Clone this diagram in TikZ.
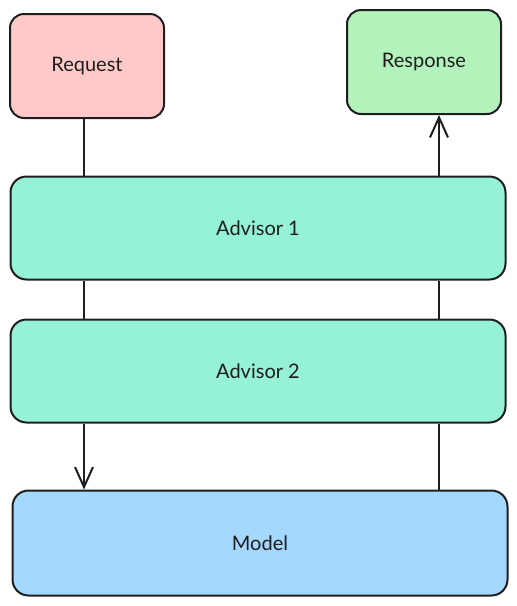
\documentclass[tikz,border=0pt]{standalone}
\usepackage{fontspec}
\setmainfont{Lato}
\usetikzlibrary{arrows.meta}
\definecolor{reqred}{HTML}{FFC9C9}
\definecolor{respgreen}{HTML}{B2F2BB}
\definecolor{advteal}{HTML}{96F2D7}
\definecolor{modblue}{HTML}{A5D8FF}
\definecolor{ink}{HTML}{1E1E1E}
\begin{document}
\begin{tikzpicture}[x=1pt,y=-1pt]

\tikzset{smallbox/.style={rectangle,rounded corners=14pt,minimum width=154pt,minimum height=104pt,inner sep=0pt,draw=ink,line width=2pt,text=ink,font=\fontsize{20}{22}\selectfont},}
\tikzset{widebox/.style={rectangle,rounded corners=16pt,minimum width=495pt,minimum height=103pt,inner sep=0pt,draw=ink,line width=2pt,text=ink,font=\fontsize{20}{22}\selectfont},}
\tikzset{flow/.style={draw=ink,line width=2pt},}
\tikzset{flowarrow/.style={flow,-{Straight Barb[length=20pt,width=18pt,line width=2pt]}},}

\useasboundingbox (0,0) rectangle (517,606);

%TOP
\draw (87,66) node [smallbox,fill=reqred] (request) {Request};
\draw (424,62) node [smallbox,fill=respgreen] (response) {Response};

%ADVISORS
\draw (258,228) node [widebox,fill=advteal] (advisor1) {Advisor 1};
\draw (258,371) node [widebox,fill=advteal] (advisor2) {Advisor 2};

%MODEL
\draw (260,543) node [widebox,minimum height=105pt,fill=modblue] (model) {Model};

\coordinate (down) at (84,0);
\coordinate (up) at (439,0);

\draw[flow] (request.south -| down) -- (advisor1.north -| down);
\draw[flow] (advisor1.south -| down) -- (advisor2.north -| down);
\draw[flowarrow] (advisor2.south -| down) -- (model.north -| down);

\draw[flow] (model.north -| up) -- (advisor2.south -| up);
\draw[flow] (advisor2.north -| up) -- (advisor1.south -| up);
\draw[flowarrow] (advisor1.north -| up) -- (response.south -| up);

\end{tikzpicture}
\end{document}
